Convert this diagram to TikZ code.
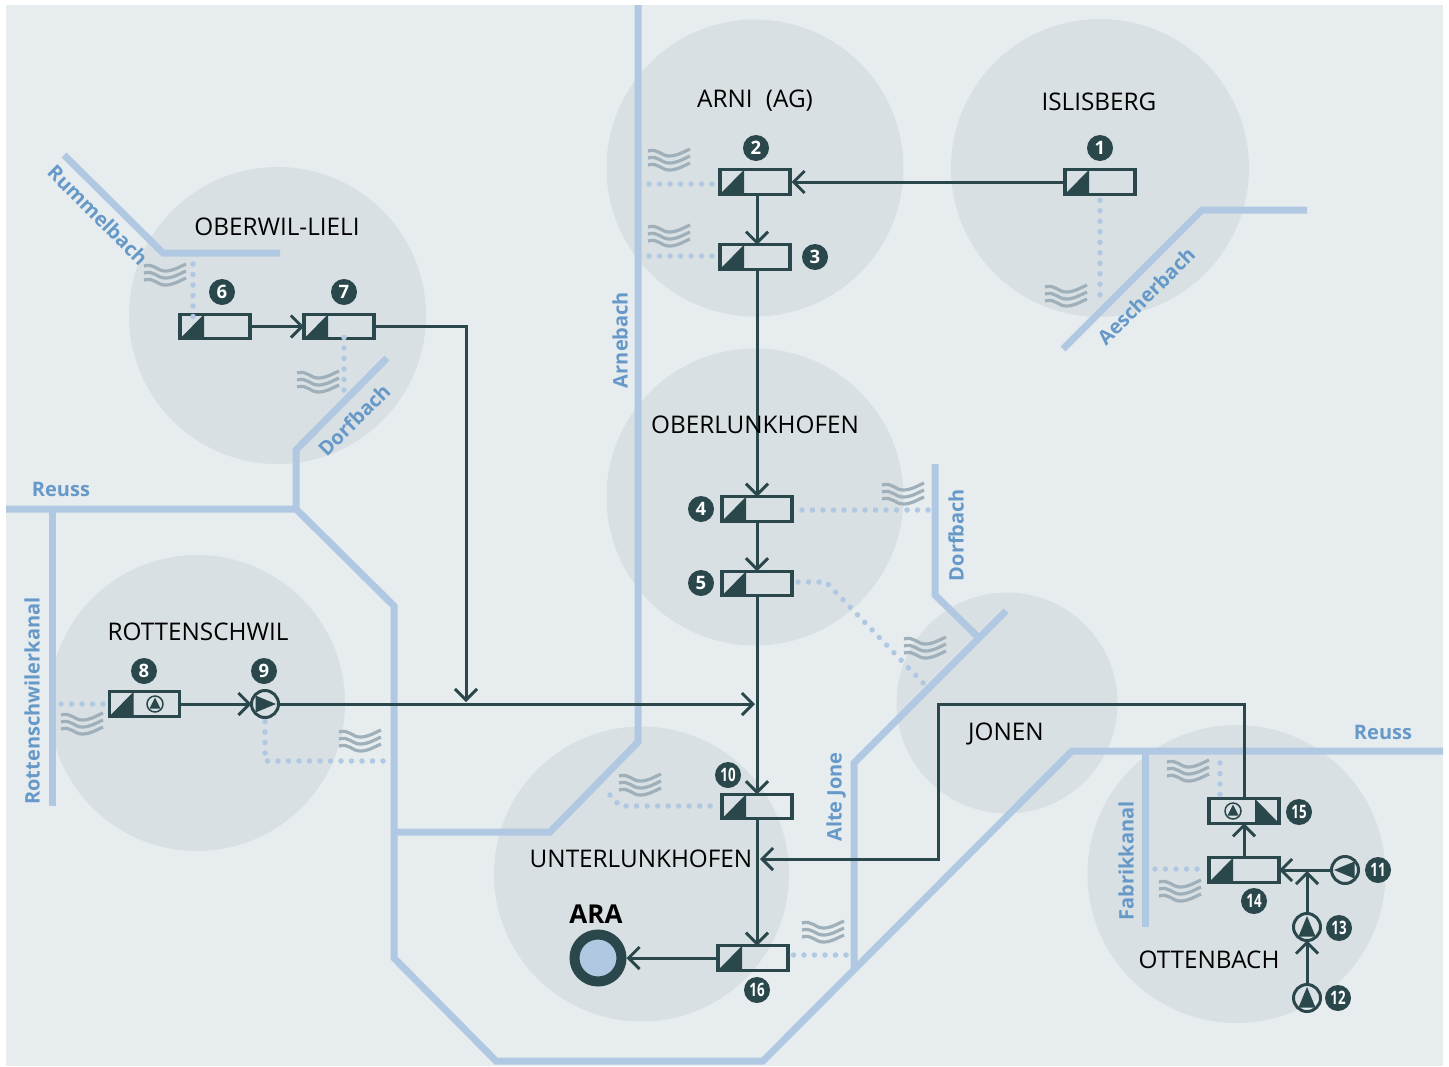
\documentclass[tikz,border=0pt]{standalone}
\usepackage{fontspec}
\setmainfont{Open Sans}
\usetikzlibrary{arrows.meta,calc}
\definecolor{bgc}{HTML}{E7EDEF}
\definecolor{circ}{HTML}{D9E0E3}
\definecolor{dk}{HTML}{2A474C}
\definecolor{river}{HTML}{B0C8E2}
\definecolor{rtext}{HTML}{6699C8}
\definecolor{wavec}{HTML}{9FB0BA}
\tikzset{
  town/.style={circle,fill=circ,draw=none,minimum size=#1,inner sep=0pt,outer sep=0pt},
  rivl/.style={draw=river,line width=7pt,line join=miter},
  dots/.style={draw=river,line width=5.5pt,line cap=round,dash pattern=on 0pt off 10.5pt},
  conn/.style={draw=dk,line width=3pt},
  arr/.style={conn,-{Straight Barb[length=11pt,width=22pt,line width=2.9pt]}},
  vbox/.style={draw=dk,line width=3.2pt,minimum width=70pt,minimum height=24.5pt,inner sep=0pt,outer sep=0pt},
  pump/.style={circle,draw=dk,line width=3pt,minimum size=27pt,inner sep=0pt,outer sep=0pt},
  badge/.style={circle,fill=dk,text=white,minimum size=26pt,inner sep=0pt,font=\fontsize{18.5}{18}\selectfont\bfseries},
  townl/.style={text=black,font=\fontsize{24.3}{24}\selectfont,inner sep=0pt},
  rivt/.style={text=rtext,font=\fontsize{20}{20}\selectfont\bfseries,inner sep=0pt},
  waves/.pic={
    \foreach \yy in {-7,0,7}
      \draw[wavec,line width=3.2pt,yshift=\yy pt]
        (-21,-2) .. controls (-11,-5) and (-8,3) .. (0,3) .. controls (8,3) and (12,0) .. (21,-4);
  }
}
% valve with shaded triangle at left
\newcommand\valveL[3]{%
  \node[vbox] (#1) at (#2,#3) {};
  \fill[dk] (#1.south west) -- ([xshift=24pt]#1.south west) -- ([xshift=24pt]#1.north west) -- cycle;
}
\newcommand\valveR[3]{%
  \node[vbox] (#1) at (#2,#3) {};
  \fill[dk] (#1.south east) -- ([xshift=-24pt]#1.south east) -- ([xshift=-24pt]#1.north east) -- cycle;
}
% pump: name, x, y, angle
\newcommand\pumpat[4]{%
  \node[pump] (#1) at (#2,#3) {};
  \fill[dk,shift={(#2,#3)},rotate=#4] (-8.5,9.5) -- (0,-11) -- (8.5,9.5) -- cycle;
}
\newcommand\smallpump[3]{%
  \node[circle,draw=dk,line width=1.5pt,minimum size=16pt,inner sep=0pt] (#1) at (#2,#3) {};
  \fill[dk,shift={(#2,#3)}] (-5.5,4.5) -- (0,-6.5) -- (5.5,4.5) -- cycle;
}
\newcommand\nn[1]{\scalebox{0.72}[1]{#1}}
\begin{document}
\begin{tikzpicture}[x=1pt,y=-1pt]
\useasboundingbox (0,0) rectangle (1449,1066);
\fill[white] (0,0) rectangle (1449,1066);
\fill[bgc] (6,5) rectangle (1443,1066);
% towns
\node[town=297pt] (cArni) at (755,168) {};
\node[town=298pt] (cIsli) at (1100,168) {};
\node[town=297pt] (cOber) at (277.5,315.5) {};
\node[town=297pt] (cOlun) at (755,497) {};
\node[town=296pt] (cRott) at (197,703) {};
\node[town=221pt] (cJon) at (1007,703) {};
\node[town=295pt] (cUlun) at (641.5,874) {};
\node[town=298pt] (cOtt) at (1236.5,874) {};
% rivers
\draw[rivl] (6,509) -- (296,509) -- (394,606) -- (394,958) -- (496,1061) -- (763,1061) -- (1072,751) -- (1443,751);
\draw[rivl] (638,5) -- (638,742) -- (550,832) -- (394,832);
\draw[rivl] (296,510) -- (296,450) -- (387,358);
\draw[rivl] (64,155) -- (163,253) -- (280,253);
\draw[rivl] (1063,349) -- (1202,210) -- (1307,210);
\draw[rivl] (52,509) -- (52,806);
\draw[rivl] (1145,751) -- (1145,927);
\draw[rivl] (935,464) -- (935,595) -- (978,637);
\draw[rivl] (1006,611) -- (854,763) -- (854,968);
% river labels
\node[rivt] (lR1) at (61,489) {Reuss};
\node[rivt] (lR2) at (1383,732) {Reuss};
\node[rivt,rotate=90] (lArne) at (620,340) {Arnebach};
\node[rivt,rotate=90] (lRk) at (32,701) {Rottenschwilerkanal};
\node[rivt,rotate=90] (lDe) at (956,535) {Dorfbach};
\node[rivt,rotate=90] (lAj) at (836,797) {Alte Jone};
\node[rivt,rotate=90] (lFk) at (1126,861) {Fabrikkanal};
\node[rivt,rotate=-45] (lRu) at (98,215) {Rummelbach};
\node[rivt,rotate=45] (lAe) at (1146,296) {Aescherbach};
\node[rivt,rotate=45] (lDw) at (354,420) {Dorfbach};
% waves
\foreach \wx/\wy in {669/160,669/236,1066/296,165/275,318/382,903/494,925/648,82/724,360/741,640/785,823/932,1188/771,1180/891}
  \pic at (\wx,\wy) {waves};
% equipment
\valveL{b1}{1100}{182}
\valveL{b2}{755}{182}
\valveL{b3}{755}{257}
\valveL{b4}{757}{509}
\valveL{b5}{757}{583.5}
\valveL{b6}{215}{326.5}
\valveL{b7}{339}{326.5}
\valveL{b8}{144.5}{704}
\valveL{b10}{757}{806.5}
\valveL{b14}{1244}{870}
\valveR{b15}{1244}{811}
\valveL{b16}{753}{958}
\smallpump{s8}{155}{704}
\smallpump{s15}{1233}{811}
\pumpat{p9}{265}{704}{-90}
\pumpat{p11}{1345}{870}{90}
\pumpat{p12}{1307}{998}{0}
\pumpat{p13}{1307}{927}{0}
\node[circle,draw=dk,line width=10pt,fill=river,minimum size=47pt,inner sep=0pt,outer sep=5pt] (ara) at (598,958) {};
% free ends
\coordinate (d1) at (1100,300);
\coordinate (d2) at (649,184);
\coordinate (d3) at (649,256);
\coordinate (d4) at (928,510);
\coordinate (d5) at (826,582);
\coordinate (d5e) at (926,686);
\coordinate (d6) at (193,264);
\coordinate (d7) at (344,390);
\coordinate (d8) at (61,704);
\coordinate (d9) at (265,761);
\coordinate (d9e) at (388,761);
\coordinate (d10) at (610,795);
\coordinate (d10c) at (620,806);
\coordinate (d14) at (1155,869);
\coordinate (d15) at (1220,763);
\coordinate (d16) at (846,955);
% dotted links
\draw[dots] (d2) -- ([xshift=-4pt]d2 -| b2.west);
\draw[dots] (d3) -- ([xshift=-4pt]d3 -| b3.west);
\draw[dots] (b1.south) ++(0,6) -- (d1);
\draw[dots] (d4) -- ([xshift=3pt]d4 -| b4.east);
\draw[dots] (b5.east |- d5) ++(6,0) -- (d5) -- (d5e);
\draw[dots] (d6) -- ([yshift=-4pt]d6 |- b6.north);
\draw[dots] (d7) -- ([yshift=4pt]d7 |- b7.south);
\draw[dots] (d8) -- ([xshift=-5pt]d8 -| b8.west);
\draw[dots] (p9.south) ++(0,4) -- (d9) -- (d9e);
\draw[dots] (d10) -- (d10c) -- ([xshift=-5pt]d10c -| b10.west);
\draw[dots] (d14) -- ([xshift=-6pt]d14 -| b14.west);
\draw[dots] (d15) -- ([yshift=-5pt]d15 |- b15.north);
\draw[dots] (d16) -- ([xshift=5pt]d16 -| b16.east);
% junction points
\coordinate (j1) at (466,326.5);
\coordinate (j2) at (466,702);
\coordinate (j3) at (755,704);
\coordinate (j4) at (1244,704);
\coordinate (j5) at (938,704);
\coordinate (j6) at (938,859);
\coordinate (j7) at (760,859);
\coordinate (j8) at (1307,871);
% connectors
\draw[arr] (b1.west) -- ([xshift=1.5pt]b2.east);
\draw[arr] ([xshift=2pt]b2.south) -- ([xshift=2pt]b3.north);
\draw[arr] ([xshift=2pt]b3.south) -- (b4.north);
\draw[arr] (b4.south) -- (b5.north);
\draw[arr] (b5.south) -- (b10.north);
\draw[arr] (b10.south) -- (b10.south |- b16.north);
\draw[arr] (b16.west) -- (ara.east);
\draw[arr] (b6.east) -- (b7.west);
\draw[arr] (b7.east) -- (j1) -- (j2);
\draw[arr] (b8.east) -- (p9.west);
\draw[arr] (p9.east) -- (j3);
\draw[arr] (b15.north) -- (j4) -- (j5) -- (j6) -- (j7);
\draw[arr] (b14.north) -- (b15.south);
\draw[arr] (p11.west) -- (b14.east);
\draw[arr] (p13.north) -- (j8);
\draw[arr] (p12.north) -- (p13.south);
% badges
\node[badge] (n1) at (1100,148) {1};
\node[badge] (n2) at (756,148) {2};
\node[badge] (n3) at (815,257) {3};
\node[badge] (n4) at (701,509) {4};
\node[badge] (n5) at (701,583) {5};
\node[badge] (n6) at (222,292) {6};
\node[badge] (n7) at (344,292) {7};
\node[badge] (n8) at (144,671) {8};
\node[badge] (n9) at (264,671) {9};
\node[badge] (n10) at (728,775) {\nn{10}};
\node[badge] (n11) at (1378,870) {\nn{11}};
\node[badge] (n12) at (1338,998) {\nn{12}};
\node[badge] (n13) at (1339,928) {\nn{13}};
\node[badge] (n14) at (1254,901) {\nn{14}};
\node[badge] (n15) at (1299,812) {\nn{15}};
\node[badge] (n16) at (757,990) {\nn{16}};
% town labels
\node[townl] (tArni) at (755,101) {ARNI\hspace{7pt} (AG)};
\node[townl] (tIsli) at (1099,102) {ISLISBERG};
\node[townl] (tOber) at (277,227) {OBERWIL-LIELI};
\node[townl] (tOlun) at (755,425) {OBERLUNKHOFEN};
\node[townl] (tRott) at (198,632) {ROTTENSCHWIL};
\node[townl] (tJon) at (1006,734) {JONEN};
\node[townl] (tUlun) at (641,859) {UNTERLUNKHOFEN};
\node[townl] (tOtt) at (1209,960) {OTTENBACH};
\node[text=black,inner sep=0pt,font=\fontsize{26}{26}\selectfont\bfseries] (tAra) at (596,914) {ARA};
\end{tikzpicture}
\end{document}
